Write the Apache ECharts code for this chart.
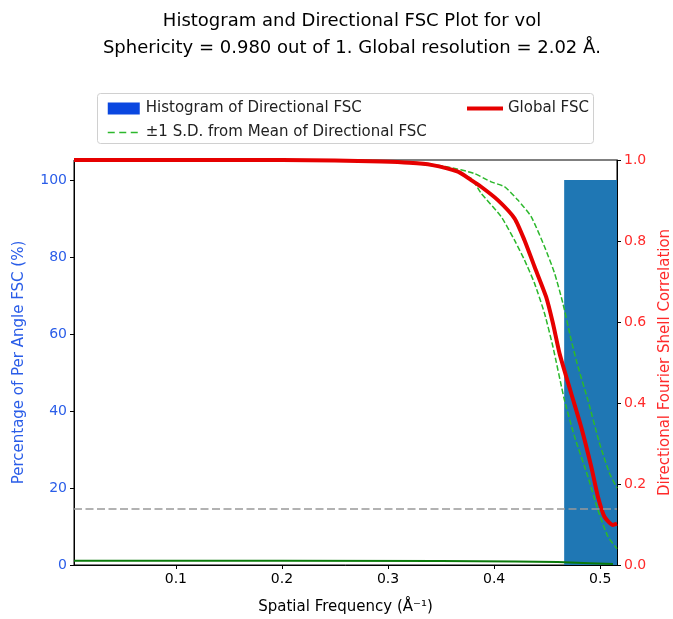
<!DOCTYPE html>
<html>
<head>
<meta charset="utf-8">
<script src="https://cdn.jsdelivr.net/npm/echarts@6/dist/echarts.min.js"></script>
<style>html,body{margin:0;padding:0;background:#fff}#c{width:673px;height:619px}</style>
</head>
<body>
<div id="c"></div>
<script>
// ---- data ----
var titleLines = ['Histogram and Directional FSC Plot for vol', 'Sphericity = 0.980 out of 1. Global resolution = 2.02 \u00C5.'];
var xTicks = [0.1, 0.2, 0.3, 0.4, 0.5];
var leftTicks = [0, 20, 40, 60, 80, 100];
var rightTicks = [0, 0.2, 0.4, 0.6, 0.8, 1.0];
var histBins = [[0.466, 0.524, 100]];
var fscX = [0.004, 0.1, 0.2, 0.25, 0.2934, 0.32, 0.3406, 0.3658, 0.378, 0.3877, 0.4035, 0.4192, 0.4286, 0.438, 0.449, 0.4554, 0.4616, 0.4726, 0.482, 0.4915, 0.4978, 0.504, 0.5119, 0.5158];
var fscY = [1.0, 1.0, 1.0, 0.999, 0.996, 0.993, 0.988, 0.971, 0.951, 0.934, 0.901, 0.856, 0.802, 0.737, 0.662, 0.597, 0.523, 0.424, 0.341, 0.243, 0.169, 0.119, 0.099, 0.102];
var upX = [0.004, 0.1, 0.2, 0.3, 0.33, 0.356, 0.381, 0.3972, 0.4097, 0.4224, 0.4349, 0.4475, 0.457, 0.4648, 0.4726, 0.479, 0.4884, 0.4994, 0.5088, 0.5158];
var upY = [1.0, 1.0, 1.0, 0.998, 0.993, 0.983, 0.967, 0.946, 0.934, 0.901, 0.860, 0.786, 0.720, 0.646, 0.556, 0.490, 0.407, 0.300, 0.226, 0.190];
var loX = [0.004, 0.1, 0.2, 0.3, 0.33, 0.356, 0.378, 0.3877, 0.4066, 0.4192, 0.4286, 0.438, 0.4475, 0.4554, 0.4663, 0.4758, 0.4884, 0.4978, 0.5073, 0.5158];
var loY = [1.0, 1.0, 1.0, 0.997, 0.99, 0.979, 0.955, 0.918, 0.86, 0.802, 0.753, 0.696, 0.621, 0.539, 0.407, 0.317, 0.218, 0.136, 0.07, 0.04];
var baseX = [0.004, 0.2, 0.35, 0.42, 0.46, 0.49, 0.512];
var baseY = [1.1, 1.1, 1.05, 0.9, 0.75, 0.45, 0.25];
var threshold = 0.143;

function zip(a, b) { return a.map(function (v, i) { return [v, b[i]]; }); }

var FONT = 'DejaVu Sans';
var BLUE = '#2a5de8';
var RED = '#ff2a2a';
var chart = echarts.init(document.getElementById('c'), null, {renderer: 'canvas'});

var HIST = 'Histogram of Directional FSC';
var SD = '\u00B11 S.D. from Mean of Directional FSC';
var GLOBAL = 'Global FSC';

chart.setOption({
  animation: false,
  textStyle: {fontFamily: FONT},
  title: {
    text: titleLines.join('\n'),
    left: 347, top: 3, textAlign: 'center',
    textStyle: {fontFamily: FONT, fontSize: 18, fontWeight: 'normal', color: '#000', lineHeight: 27}
  },
  graphic: [{
    type: 'rect', shape: {x: 97.5, y: 93.5, width: 496, height: 50, r: 3},
    style: {fill: '#fff', stroke: '#d0d0d0', lineWidth: 1}, z: -1
  }],
  legend: [{
    left: 102, top: 96, orient: 'vertical', itemGap: 9, itemWidth: 32, itemHeight: 12,
    textStyle: {fontFamily: FONT, fontSize: 15, color: '#222', padding: [0, 0, 0, 1]},
    data: [{name: HIST, icon: 'rect', itemStyle: {color: '#0a47e0'}},
           {name: SD, itemStyle: {opacity: 0}, lineStyle: {width: 1.5, type: [7, 4.5], color: '#2cb82c'}}]
  }, {
    left: 460, top: 96, orient: 'vertical', itemWidth: 36, itemHeight: 12,
    textStyle: {fontFamily: FONT, fontSize: 15, color: '#222'},
    data: [{name: GLOBAL, itemStyle: {opacity: 0}, lineStyle: {width: 4, color: '#e60000'}}]
  }],
  grid: {left: 74, right: 56, top: 160, bottom: 54, show: true, borderColor: '#000', borderWidth: 1,
    containLabel: false, outerBoundsMode: 'none'},
  xAxis: {
    type: 'value', min: 0.004, max: 0.5158,
    name: 'Spatial Frequency (\u00C5\u207B\u00B9)', nameLocation: 'middle', nameGap: 35,
    nameTextStyle: {fontFamily: FONT, fontSize: 15, color: '#000'},
    axisLine: {show: true, lineStyle: {color: '#000', width: 1}},
    axisTick: {show: true, length: 4, inside: false, customValues: xTicks, lineStyle: {color: '#000'}},
    axisLabel: {customValues: xTicks, fontFamily: FONT, fontSize: 14, color: '#000', margin: 7,
      formatter: function (v) { return v.toFixed(1); }},
    splitLine: {show: false}
  },
  yAxis: [{
    type: 'value', min: 0, max: 105.2, position: 'left',
    name: 'Percentage of Per Angle FSC (%)', nameLocation: 'middle', nameGap: 47, nameRotate: 90,
    nameTextStyle: {fontFamily: FONT, fontSize: 15, color: BLUE},
    axisLine: {show: true, lineStyle: {color: '#000'}},
    axisTick: {show: true, length: 4, customValues: leftTicks, lineStyle: {color: '#000'}},
    axisLabel: {customValues: leftTicks, fontFamily: FONT, fontSize: 14, color: BLUE, margin: 7},
    splitLine: {show: false}
  }, {
    type: 'value', min: 0, max: 1, position: 'right',
    name: 'Directional Fourier Shell Correlation', nameLocation: 'middle', nameGap: 38, nameRotate: 90,
    nameTextStyle: {fontFamily: FONT, fontSize: 15, color: RED},
    axisLine: {show: true, lineStyle: {color: '#000'}},
    axisTick: {show: true, length: 4, customValues: rightTicks, lineStyle: {color: '#000'}},
    axisLabel: {customValues: rightTicks, fontFamily: FONT, fontSize: 14, color: RED, margin: 7,
      formatter: function (v) { return v.toFixed(1); }},
    splitLine: {show: false}
  }],
  series: [{
    name: HIST, type: 'custom', xAxisIndex: 0, yAxisIndex: 0, z: 1,
    itemStyle: {color: '#1f77b4'},
    renderItem: function (params, api) {
      var p0 = api.coord([api.value(0), api.value(2)]);
      var p1 = api.coord([api.value(1), 0]);
      var rect = echarts.graphic.clipRectByRect(
        {x: p0[0], y: p0[1], width: p1[0] - p0[0], height: p1[1] - p0[1]},
        {x: params.coordSys.x, y: params.coordSys.y, width: params.coordSys.width, height: params.coordSys.height});
      return rect && {type: 'rect', shape: rect, style: {fill: '#1f77b4'}};
    },
    data: histBins
  }, {
    name: 'base', type: 'line', yAxisIndex: 0, z: 2, symbol: 'none', silent: true,
    lineStyle: {color: '#0a7a0a', width: 2}, data: zip(baseX, baseY)
  }, {
    name: SD, type: 'line', yAxisIndex: 1, z: 3, symbol: 'none', smooth: 0.2,
    itemStyle: {color: '#2cb82c'},
    lineStyle: {color: '#2cb82c', width: 1.5, type: [5.5, 2.4]}, data: zip(upX, upY)
  }, {
    name: SD, type: 'line', yAxisIndex: 1, z: 3, symbol: 'none', smooth: 0.2,
    itemStyle: {color: '#2cb82c'},
    lineStyle: {color: '#2cb82c', width: 1.5, type: [5.5, 2.4]}, data: zip(loX, loY)
  }, {
    name: GLOBAL, type: 'line', yAxisIndex: 1, z: 4, symbol: 'none', smooth: 0.2,
    itemStyle: {color: '#e60000'},
    lineStyle: {color: '#e60000', width: 4}, data: zip(fscX, fscY),
    markLine: {
      silent: true, symbol: 'none', label: {show: false},
      lineStyle: {color: '#999', width: 1.5, type: [8, 3.5]},
      data: [{yAxis: threshold}]
    }
  }]
});
</script>
</body>
</html>
